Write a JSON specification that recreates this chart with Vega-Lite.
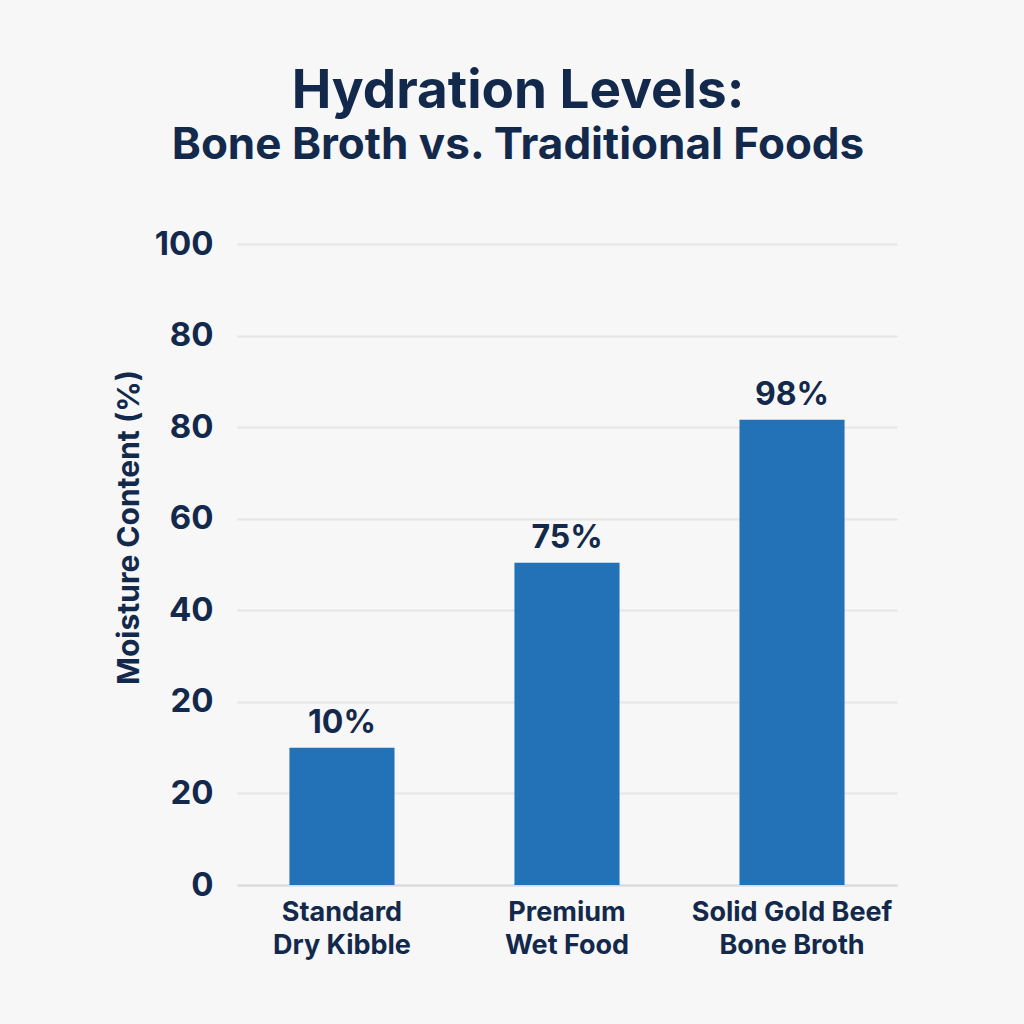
{
  "$schema": "https://vega.github.io/schema/vega-lite/v6.json",
  "width": 660,
  "height": 641,
  "autosize": {"type": "none"},
  "padding": {"left": 237, "top": 244, "right": 127, "bottom": 139},
  "background": "#f7f7f7",
  "title": {
    "text": "Hydration Levels:",
    "subtitle": "Bone Broth vs. Traditional Foods",
    "anchor": "middle",
    "dx": -49,
    "offset": 60,
    "font": "Inter",
    "fontSize": 53,
    "fontWeight": "bold",
    "color": "#13294b",
    "subtitleFont": "Inter",
    "subtitleFontSize": 44,
    "subtitleFontWeight": "bold",
    "subtitleColor": "#13294b",
    "subtitlePadding": 5
  },
  "data": {
    "values": [
      {"food": "Standard Dry Kibble", "bar_height": 1.5, "label": "10%"},
      {"food": "Premium Wet Food", "bar_height": 3.52, "label": "75%"},
      {"food": "Solid Gold Beef Bone Broth", "bar_height": 5.08, "label": "98%"}
    ]
  },
  "encoding": {
    "x": {
      "field": "food",
      "type": "nominal",
      "sort": null,
      "scale": {"paddingInner": 0.533, "paddingOuter": 0.233},
      "axis": {
        "title": null,
        "labelAngle": 0,
        "labelLimit": 0,
        "labelExpr": "datum.value == 'Standard Dry Kibble' ? ['Standard', 'Dry Kibble'] : datum.value == 'Premium Wet Food' ? ['Premium', 'Wet Food'] : ['Solid Gold Beef', 'Bone Broth']",
        "labelFont": "Inter",
        "labelFontSize": 27,
        "labelFontWeight": "bold",
        "labelColor": "#13294b",
        "labelLineHeight": 33,
        "labelPadding": 14,
        "labelBaseline": "top",
        "ticks": false,
        "domain": true,
        "domainColor": "#d9d9d9",
        "domainWidth": 2
      }
    },
    "y": {
      "field": "bar_height",
      "type": "quantitative",
      "scale": {"domain": [0, 7], "nice": false},
      "axis": {
        "title": "Moisture Content (%)",
        "values": [0, 1, 2, 3, 4, 5, 6, 7],
        "labelExpr": "['0','20','20','40','60','80','80','100'][datum.value]",
        "labelFont": "Inter",
        "labelFontSize": 33,
        "labelFontWeight": "bold",
        "labelColor": "#13294b",
        "labelPadding": 24,
        "ticks": false,
        "domain": false,
        "grid": true,
        "gridColor": "#e6e6e6",
        "gridWidth": 2,
        "titleFont": "Inter",
        "titleFontSize": 30,
        "titleFontWeight": "bold",
        "titleColor": "#13294b",
        "titlePadding": 10,
        "titleY": 283
      }
    }
  },
  "layer": [
    {"mark": {"type": "bar", "color": "#2372b8"}},
    {
      "mark": {
        "type": "text",
        "dy": -15,
        "baseline": "alphabetic",
        "font": "Inter",
        "fontSize": 32,
        "fontWeight": "bold",
        "color": "#13294b"
      },
      "encoding": {"text": {"field": "label"}}
    }
  ],
  "config": {"view": {"stroke": null}}
}
